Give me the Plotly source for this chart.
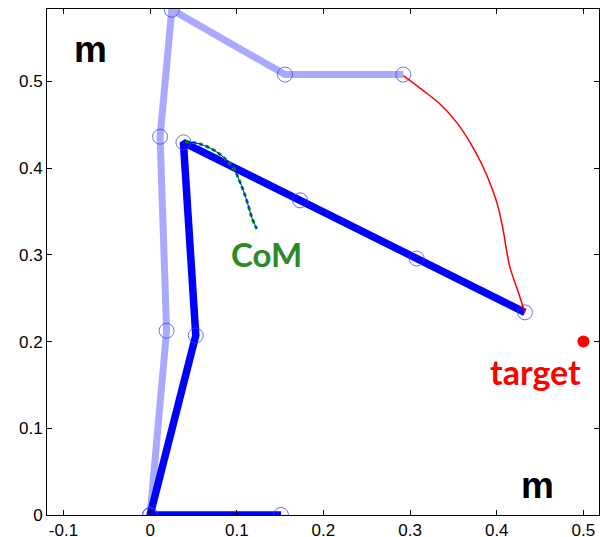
import plotly.graph_objects as go

# Initial (faded) arm configuration
light_x = [0.0, 0.019, 0.0115, 0.025, 0.1557, 0.2922]
light_y = [0.0, 0.2125, 0.4363, 0.5828, 0.508, 0.508]

# Final arm configuration
dark_x = [0.151, 0.0, 0.0527, 0.0384, 0.173, 0.3076, 0.4325]
dark_y = [0.0, 0.0, 0.207, 0.4298, 0.3629, 0.2958, 0.2337]

# End-effector trajectory
traj_x = [0.2922, 0.3152, 0.3345, 0.3537, 0.3691, 0.3826, 0.3941, 0.4017,
          0.4075, 0.4114, 0.4152, 0.4230, 0.4306, 0.4325]
traj_y = [0.5067, 0.4894, 0.4740, 0.4528, 0.4298, 0.4048, 0.3779, 0.3548,
          0.3279, 0.3048, 0.2856, 0.2625, 0.2394, 0.2337]

# Centre-of-mass trajectory
com_x = [0.0404, 0.0577, 0.0712, 0.0827, 0.0923, 0.0980, 0.1030, 0.1076,
         0.1122, 0.1173, 0.1231]
com_y = [0.4309, 0.4279, 0.4221, 0.4144, 0.4048, 0.3971, 0.3856, 0.3741,
         0.3606, 0.3433, 0.3299]

target_x = [0.5]
target_y = [0.2]

x_ticks = [-0.1, 0, 0.1, 0.2, 0.3, 0.4, 0.5]
x_tick_labels = ["-0.1", "0", "0.1", "0.2", "0.3", "0.4", "0.5"]
y_ticks = [0, 0.1, 0.2, 0.3, 0.4, 0.5]
y_tick_labels = ["0", "0.1", "0.2", "0.3", "0.4", "0.5"]

fig = go.Figure()

fig.add_trace(go.Scatter(x=light_x, y=light_y, mode="lines",
                         line=dict(color="#a9a9ff", width=7), hoverinfo="skip"))
fig.add_trace(go.Scatter(x=dark_x, y=dark_y, mode="lines",
                         line=dict(color="#0000ff", width=7.5), hoverinfo="skip"))
fig.add_trace(go.Scatter(x=light_x, y=light_y, mode="markers",
                         marker=dict(symbol="circle-open", size=15,
                                     color="rgba(60,60,255,0.75)", line=dict(width=1))))
fig.add_trace(go.Scatter(x=dark_x, y=dark_y, mode="markers",
                         marker=dict(symbol="circle-open", size=15,
                                     color="rgba(60,60,255,0.75)", line=dict(width=1))))
fig.add_trace(go.Scatter(x=traj_x, y=traj_y, mode="lines",
                         line=dict(color="#ff0000", width=1.5, shape="spline")))
fig.add_trace(go.Scatter(x=com_x, y=com_y, mode="lines",
                         line=dict(color="#00b000", width=3, dash="4px,3px", shape="spline")))
fig.add_trace(go.Scatter(x=com_x, y=com_y, mode="lines",
                         line=dict(color="#0000ff", width=1, shape="spline")))
fig.add_trace(go.Scatter(x=target_x, y=target_y, mode="markers",
                         marker=dict(color="#ff0000", size=12)))

fig.add_annotation(x=-0.069, y=0.537, text="<b>m</b>", showarrow=False,
                   font=dict(family="Liberation Sans", size=37, color="black"))
fig.add_annotation(x=0.4475, y=0.034, text="<b>m</b>", showarrow=False,
                   font=dict(family="Liberation Sans", size=37, color="black"))
fig.add_annotation(x=0.1338, y=0.3014, text="<b>CoM</b>", showarrow=False,
                   font=dict(family="Lato", size=33, color="#2a8a2a"))
fig.add_annotation(x=0.445, y=0.1655, text="<b>target</b>", showarrow=False,
                   font=dict(family="Lato", size=34, color="#ff0000"))

axis_common = dict(showline=True, linecolor="black", linewidth=1, mirror="ticks",
                   ticks="inside", ticklen=5, tickcolor="black", showgrid=False,
                   zeroline=False, automargin=False,
                   tickfont=dict(family="Liberation Sans", size=17, color="black"))

fig.update_xaxes(range=[-0.119, 0.518], tickvals=x_ticks, ticktext=x_tick_labels, **axis_common)
fig.update_yaxes(range=[0, 0.5836], tickvals=y_ticks, ticktext=y_tick_labels, **axis_common)

# The page adds an 8px body margin, so the figure is sized to the visible area.
fig.update_layout(width=600, height=529, showlegend=False,
                  margin=dict(l=39, r=9, t=1, b=22),
                  plot_bgcolor="white", paper_bgcolor="white")

fig.write_html("out.html")
